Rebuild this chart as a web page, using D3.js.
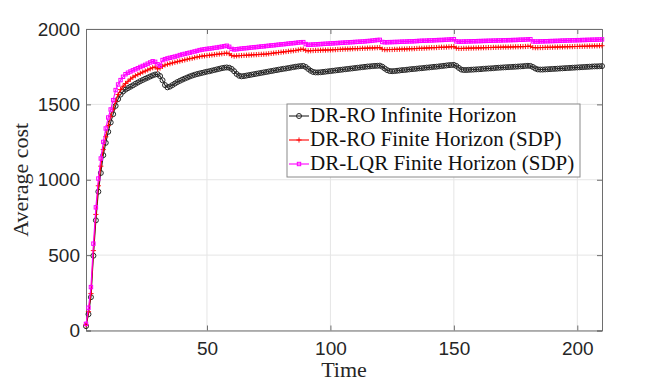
<!DOCTYPE html>
<html>
<head>
<meta charset="utf-8">
<script src="https://cdn.jsdelivr.net/npm/d3@7"></script>
<style>
  body { margin: 0; background: #fff; }
  svg { display: block; }
</style>
</head>
<body>
<svg id="chart" width="664" height="386"></svg>
<script>
// time steps 1..210
var time = d3.range(1, 211);

var drRoInfinite = [
  29,108,221,496,731,921,1045,1163,1245,1318,
  1380,1435,1490,1535,1565,1585,1598,1608,1617,1626,
  1636,1645,1654,1662,1670,1677,1685,1692,1698,1700,
  1688,1660,1628,1613,1618,1628,1638,1648,1656,1664,
  1671,1678,1685,1691,1696,1701,1705,1709,1713,1717,
  1720,1724,1728,1732,1736,1740,1743,1745,1743,1735,
  1720,1702,1690,1686,1688,1691,1694,1697,1700,1703,
  1706,1709,1712,1715,1718,1721,1724,1727,1730,1733,
  1736,1738,1741,1744,1747,1750,1752,1754,1755,1748,
  1735,1723,1715,1712,1712,1713,1715,1717,1719,1721,
  1723,1725,1727,1729,1731,1733,1735,1737,1739,1741,
  1743,1745,1747,1749,1751,1752,1754,1755,1756,1757,
  1750,1738,1727,1721,1720,1721,1723,1725,1727,1728,
  1730,1732,1734,1735,1737,1739,1740,1742,1744,1745,
  1747,1749,1750,1752,1754,1756,1758,1760,1761,1762,
  1755,1742,1731,1728,1728,1729,1730,1731,1732,1733,
  1734,1736,1737,1738,1739,1740,1742,1743,1744,1745,
  1746,1747,1748,1749,1750,1751,1752,1753,1755,1756,
  1755,1748,1738,1732,1731,1731,1732,1733,1734,1735,
  1736,1737,1738,1739,1740,1741,1742,1743,1744,1745,
  1746,1747,1748,1749,1750,1751,1752,1752,1753,1754
];

var drRoFinite = [
  36,125,245,530,770,960,1090,1200,1285,1360,
  1418,1468,1518,1565,1598,1620,1638,1653,1668,1680,
  1690,1698,1706,1714,1721,1728,1736,1743,1748,1735,
  1741,1752,1761,1766,1770,1775,1779,1783,1787,1791,
  1795,1799,1803,1806,1810,1814,1817,1820,1822,1824,
  1826,1828,1830,1832,1834,1836,1838,1840,1836,1824,
  1820,1822,1823,1824,1825,1826,1827,1828,1829,1830,
  1831,1832,1833,1834,1836,1838,1840,1842,1844,1846,
  1848,1850,1852,1854,1856,1858,1861,1865,1866,1858,
  1855,1856,1857,1858,1858,1859,1860,1860,1861,1861,
  1862,1863,1864,1865,1866,1867,1867,1868,1869,1870,
  1870,1871,1872,1872,1873,1874,1874,1875,1876,1877,
  1866,1863,1863,1864,1864,1865,1865,1866,1867,1867,
  1868,1869,1869,1870,1871,1872,1872,1873,1874,1875,
  1876,1876,1877,1878,1879,1879,1880,1881,1882,1883,
  1873,1871,1871,1872,1872,1873,1873,1874,1874,1875,
  1875,1876,1876,1877,1877,1878,1878,1879,1879,1880,
  1880,1880,1881,1881,1882,1882,1883,1883,1884,1885,
  1886,1877,1876,1876,1877,1877,1878,1878,1879,1879,
  1880,1880,1881,1881,1882,1882,1883,1883,1884,1884,
  1885,1885,1886,1886,1887,1887,1888,1888,1889,1889
];

var drLqrFinite = [
  44,151,288,576,817,1008,1141,1251,1340,1413,
  1466,1528,1595,1632,1661,1683,1700,1710,1718,1726,
  1733,1740,1748,1755,1762,1770,1778,1786,1782,1766,
  1756,1794,1800,1805,1809,1813,1817,1821,1827,1831,
  1835,1839,1843,1847,1851,1855,1860,1863,1866,1868,
  1870,1872,1875,1877,1880,1883,1886,1889,1882,1868,
  1864,1866,1868,1870,1872,1873,1875,1877,1879,1880,
  1882,1884,1885,1887,1889,1891,1892,1894,1896,1898,
  1899,1901,1903,1905,1906,1908,1910,1912,1913,1900,
  1895,1896,1897,1898,1899,1900,1901,1902,1903,1904,
  1905,1906,1907,1908,1909,1910,1911,1912,1913,1914,
  1915,1916,1917,1918,1920,1921,1923,1925,1927,1928,
  1914,1912,1912,1913,1913,1914,1914,1915,1916,1916,
  1917,1918,1918,1919,1920,1921,1922,1922,1923,1924,
  1924,1925,1926,1927,1927,1928,1929,1930,1931,1932,
  1918,1916,1916,1917,1917,1918,1918,1919,1919,1920,
  1920,1921,1921,1922,1922,1923,1923,1924,1924,1925,
  1925,1926,1926,1927,1927,1928,1929,1929,1930,1931,
  1932,1918,1917,1917,1918,1918,1919,1919,1920,1920,
  1921,1921,1922,1923,1923,1924,1924,1925,1925,1926,
  1926,1927,1927,1928,1928,1929,1929,1930,1930,1931
];

var seriesNames = ["DR-RO Infinite Horizon", "DR-RO Finite Horizon (SDP)", "DR-LQR Finite Horizon (SDP)"];
var seriesColors = ["#262626", "#ff0000", "#ff00ff"];
var seriesMarkers = ["circle", "plus", "square"];
var xTicks = [50, 100, 150, 200];
var yTicks = [0, 500, 1000, 1500, 2000];

var width = 664, height = 386;
var margin = {left: 86, right: 62, top: 29, bottom: 55.5};
var x0 = margin.left, x1 = width - margin.right,
    y0 = height - margin.bottom, y1 = margin.top;

var svg = d3.select("#chart");

var x = d3.scaleLinear().domain([1, 210]).range([x0, x1]);
var y = d3.scaleLinear().domain([0, 2000]).range([y0, y1]);

var sansFont = "'Liberation Sans', Arial, sans-serif";
var serifFont = "'Liberation Serif', 'DejaVu Serif', serif";

// grid
var grid = svg.append("g");
grid.selectAll(".gx").data(xTicks).enter().append("line")
    .attr("x1", d => x(d)).attr("x2", d => x(d))
    .attr("y1", y0).attr("y2", y1)
    .attr("stroke", "#e5e5e5").attr("stroke-width", 1);
grid.selectAll(".gy").data(yTicks).enter().append("line")
    .attr("x1", x0).attr("x2", x1)
    .attr("y1", d => y(d)).attr("y2", d => y(d))
    .attr("stroke", "#e5e5e5").attr("stroke-width", 1);

// axes (MATLAB style: ticks inside, box on)
var fmt = d3.format("d");
var xAxis = svg.append("g").attr("transform", "translate(0," + y0 + ")")
    .call(d3.axisBottom(x).tickValues(xTicks).tickSize(-5).tickPadding(11).tickFormat(fmt));
var yAxis = svg.append("g").attr("transform", "translate(" + x0 + ",0)")
    .call(d3.axisLeft(y).tickValues(yTicks).tickSize(-5).tickPadding(6).tickFormat(fmt));
var xTop = svg.append("g").attr("transform", "translate(0," + y1 + ")")
    .call(d3.axisTop(x).tickValues(xTicks).tickSize(-5).tickFormat(""));
var yRight = svg.append("g").attr("transform", "translate(" + x1 + ",0)")
    .call(d3.axisRight(y).tickValues(yTicks).tickSize(-5).tickFormat(""));

[xAxis, yAxis, xTop, yRight].forEach(function(a) {
    a.select(".domain").attr("stroke", "#6e6e6e").attr("stroke-width", 1);
    a.selectAll(".tick line").attr("stroke", "#6e6e6e");
    a.selectAll("text").attr("fill", "#262626")
        .style("font-family", sansFont).style("font-size", "19px");
});

// series
svg.append("clipPath").attr("id", "plotclip")
    .append("rect").attr("x", x0 - 4).attr("y", y1 - 4)
    .attr("width", x1 - x0 + 8).attr("height", y0 - y1 + 8);

var allSeries = [drRoInfinite, drRoFinite, drLqrFinite];
var line = d3.line().x((d, i) => x(time[i])).y(d => y(d));

function drawMarker(g, type, color, cx, cy) {
    if (type === "circle") {
        g.append("circle").attr("cx", cx).attr("cy", cy).attr("r", 2.5)
            .attr("fill", "none").attr("stroke", color).attr("stroke-width", 1);
    } else if (type === "plus") {
        g.append("path").attr("d", "M" + (cx - 2.6) + "," + cy + "H" + (cx + 2.6) + "M" + cx + "," + (cy - 2.6) + "V" + (cy + 2.6))
            .attr("stroke", color).attr("stroke-width", 0.9);
    } else {
        g.append("rect").attr("x", cx - 1.7).attr("y", cy - 1.7).attr("width", 3.4).attr("height", 3.4)
            .attr("fill", "none").attr("stroke", color).attr("stroke-width", 1);
    }
}

var plot = svg.append("g").attr("clip-path", "url(#plotclip)");
allSeries.forEach(function(vals, k) {
    var g = plot.append("g");
    g.append("path").datum(vals).attr("d", line)
        .attr("fill", "none").attr("stroke", seriesColors[k]).attr("stroke-width", 1.1);
    vals.forEach(function(v, i) {
        drawMarker(g, seriesMarkers[k], seriesColors[k], x(time[i]), y(v));
    });
});

// axis labels
svg.append("text").attr("x", (x0 + x1) / 2).attr("y", 377)
    .attr("text-anchor", "middle").attr("fill", "#262626")
    .style("font-family", serifFont).style("font-size", "22px").text("Time");
svg.append("text").attr("transform", "translate(28," + ((y0 + y1) / 2) + ") rotate(-90)")
    .attr("text-anchor", "middle").attr("fill", "#262626")
    .style("font-family", serifFont).style("font-size", "22px").text("Average cost");

// legend
var legend = svg.append("g");
legend.append("rect").attr("x", 287).attr("y", 104).attr("width", 293).attr("height", 73)
    .attr("fill", "#fff").attr("stroke", "#8a8a8a").attr("stroke-width", 1);
seriesNames.forEach(function(name, k) {
    var cy = 116 + k * 24;
    legend.append("line").attr("x1", 289).attr("x2", 309).attr("y1", cy).attr("y2", cy)
        .attr("stroke", seriesColors[k]).attr("stroke-width", 1.1);
    drawMarker(legend, seriesMarkers[k], seriesColors[k], 299, cy);
    legend.append("text").attr("x", 310).attr("y", cy + 6)
        .attr("fill", "#111").style("font-family", serifFont).style("font-size", "21px")
        .text(name);
});
</script>
</body>
</html>
